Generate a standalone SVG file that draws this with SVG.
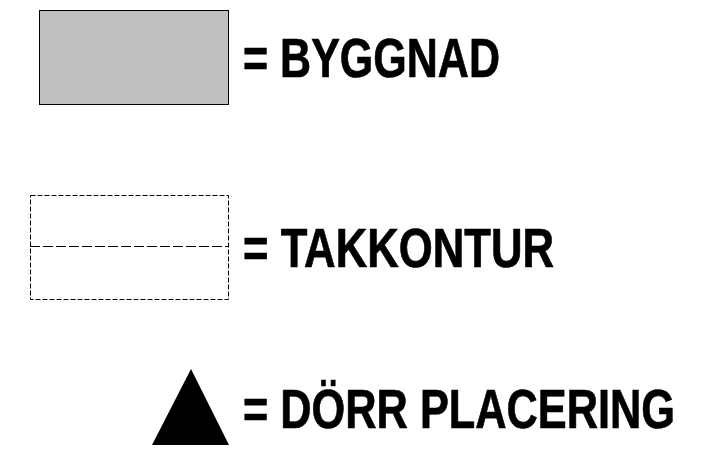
<svg xmlns="http://www.w3.org/2000/svg" width="725" height="449" viewBox="0 0 725 449">
<style>
.l{font-family:"Liberation Sans",Arial,sans-serif;font-weight:700;font-size:47px;fill:#000;stroke:#000;stroke-width:.6}
.d{fill:none;stroke:#000;stroke-width:1;stroke-dasharray:5 2}
.m{fill:none;stroke:#000;stroke-width:1;stroke-dasharray:10 3}
</style>
<rect width="725" height="449" fill="#fff"/>
<g id="byggnad"><rect x="39.500" y="10.500" width="189" height="94" fill="#c0c0c0" stroke="#000"/>
<text class="l" transform="translate(243 76.500) scale(1 1.19)" textLength="257" lengthAdjust="spacingAndGlyphs">= BYGGNAD</text></g>
<g id="takkontur"><rect class="d" x="30.500" y="195.500" width="198" height="104"/><line class="m" x1="30" y1="246.500" x2="229" y2="246.500"/>
<text class="l" transform="translate(243 266.500) scale(1 1.19)" textLength="311" lengthAdjust="spacingAndGlyphs">= TAKKONTUR</text></g>
<g id="dorr"><polygon points="191,369 229,445 152,445" fill="#000"/>
<text class="l" transform="translate(243 428) scale(1 1.19)" textLength="432" lengthAdjust="spacingAndGlyphs">= DÖRR PLACERING</text></g>
</svg>
